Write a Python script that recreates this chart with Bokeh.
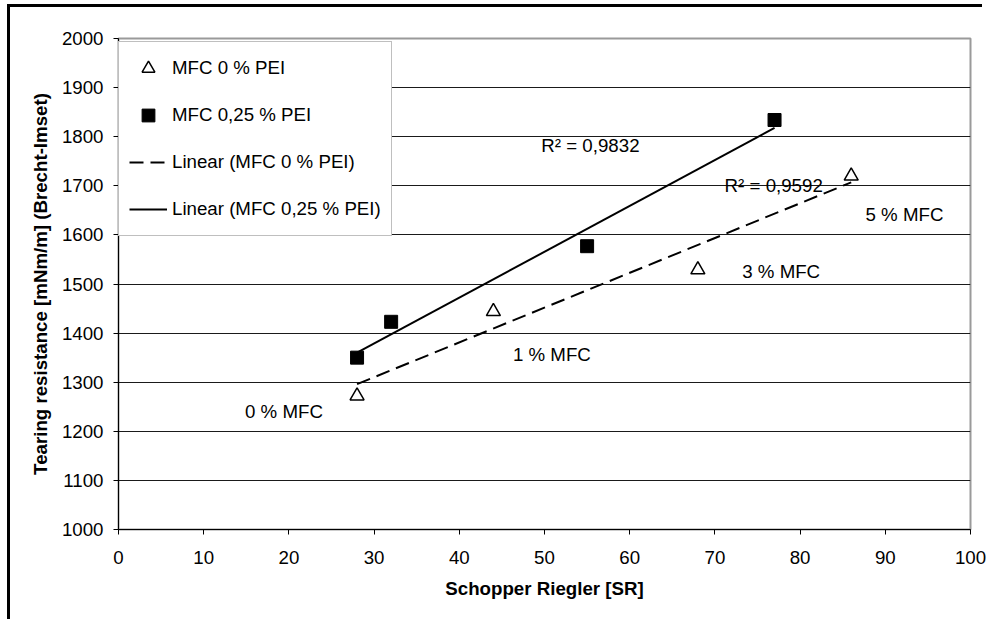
from bokeh.plotting import figure
from bokeh.models import Label, Legend, LegendItem, Range1d, FixedTicker
from bokeh.embed import file_html
from bokeh.resources import INLINE

# ---- data ----
x_pei0 = [28, 44, 68, 86]
y_pei0 = [1272, 1444, 1529, 1720]
x_pei025 = [28, 32, 55, 77]
y_pei025 = [1350, 1423, 1577, 1834]

trend0_x = [28, 86]
trend0_y = [1296, 1707]
trend025_x = [28, 77]
trend025_y = [1360, 1818]

x_ticks = [0, 10, 20, 30, 40, 50, 60, 70, 80, 90, 100]
y_ticks = [1000, 1100, 1200, 1300, 1400, 1500, 1600, 1700, 1800, 1900, 2000]

series_names = ["MFC 0 % PEI", "MFC 0,25 % PEI",
                "Linear (MFC 0 % PEI)", "Linear (MFC 0,25 % PEI)"]
annot_texts = ["R\u00b2 = 0,9832", "R\u00b2 = 0,9592",
               "5 % MFC", "3 % MFC", "1 % MFC", "0 % MFC"]

FONT = "Liberation Sans"
FS = "18.7px"

p = figure(width=993, height=619, output_backend="svg", toolbar_location=None,
           x_range=Range1d(0, 100), y_range=Range1d(1000, 2000),
           min_border_left=118, min_border_right=23,
           min_border_top=38, min_border_bottom=90)
# chart frame: 3px black line along top and left (drawn as inset shadows
# behind a transparent border area, so it does not move the layout)
p.styles = {"box-shadow": "inset -11px 0 0 0 white, inset 7px 4px 0 0 white, "
                          "inset 10px 7px 0 0 black"}
p.background_fill_color = "white"
p.border_fill_color = "white"
p.border_fill_alpha = 0
p.outline_line_color = "#9a9a9a"
p.outline_line_width = 2

# axes
for ax in (p.xaxis[0], p.yaxis[0]):
    ax.axis_line_color = "black"
    ax.axis_line_width = 1
    ax.major_tick_line_color = "black"
    ax.major_tick_out = 5
    ax.major_tick_in = 0
    ax.minor_tick_line_color = None
    ax.major_label_text_font = FONT
    ax.major_label_text_font_size = FS
    ax.major_label_text_color = "black"
    ax.axis_label_text_font = FONT
    ax.axis_label_text_font_size = FS
    ax.axis_label_text_font_style = "bold"
    ax.axis_label_text_color = "black"

p.xaxis.major_label_standoff = 16
p.yaxis.major_label_standoff = 10
p.xaxis.ticker = FixedTicker(ticks=x_ticks)
p.yaxis.ticker = FixedTicker(ticks=y_ticks)
p.xaxis.axis_label = "Schopper Riegler [SR]"
p.yaxis.axis_label = "Tearing resistance [mNm/m] (Brecht-Imset)"
p.xaxis.axis_label_standoff = 11
p.yaxis.axis_label_standoff = 8

p.xgrid.grid_line_color = None
p.ygrid.grid_line_color = "#1a1a1a"
p.ygrid.grid_line_width = 1

# trend lines
r_t0 = p.line(trend0_x, trend0_y, line_color="black", line_width=2, line_dash="14 7")
r_t1 = p.line(trend025_x, trend025_y, line_color="black", line_width=2)

# markers
r_s0 = p.scatter(x_pei0, y_pei0, marker="triangle", size=14,
                 fill_color="white", line_color="black", line_width=1.5)
r_s1 = p.scatter(x_pei025, y_pei025, marker="square", size=13,
                 fill_color="black", line_color="black")

legend = Legend(items=[
    LegendItem(label=series_names[0], renderers=[r_s0]),
    LegendItem(label=series_names[1], renderers=[r_s1]),
    LegendItem(label=series_names[2], renderers=[r_t0]),
    LegendItem(label=series_names[3], renderers=[r_t1]),
], location=(0, 293))
legend.label_text_font = FONT
legend.label_text_font_size = FS
legend.label_text_color = "black"
legend.glyph_width = 38
legend.glyph_height = 32
legend.label_height = 32
legend.spacing = 15
legend.padding = 10
legend.margin = 0
legend.label_standoff = 5
legend.border_line_color = "#808080"
legend.border_line_width = 1
legend.background_fill_color = "white"
legend.background_fill_alpha = 1
p.add_layout(legend, "center")

# annotations
annot_pos = [(49.63, 1783), (71.14, 1700), (87.68, 1641),
             (73.21, 1526), (46.3, 1357), (14.85, 1241)]
for t, (ax_, ay_) in zip(annot_texts, annot_pos):
    p.add_layout(Label(x=ax_, y=ay_, text=t, text_font=FONT, text_font_size=FS,
                       text_color="black", text_align="left",
                       text_baseline="alphabetic"))

open("out.html", "w").write(file_html(p, INLINE))
